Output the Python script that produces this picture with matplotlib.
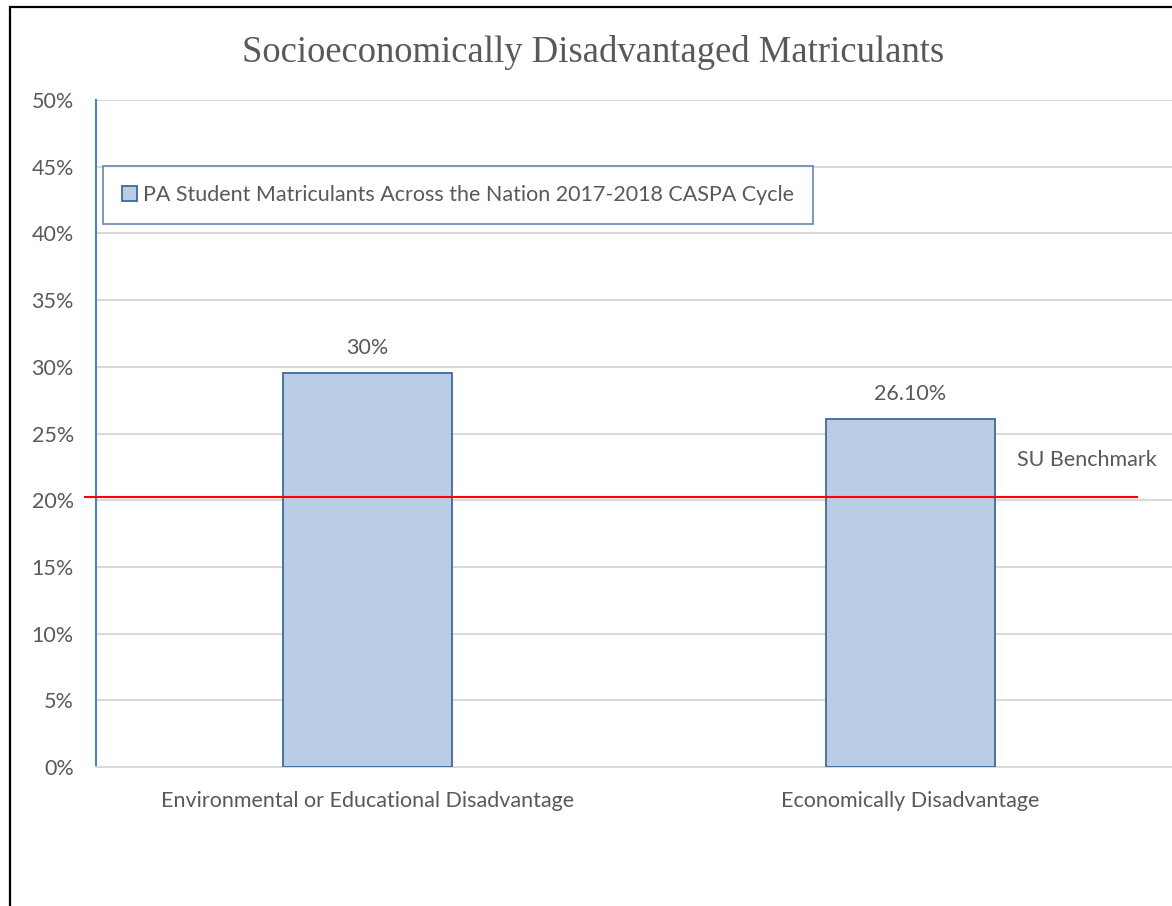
import numpy as np
import matplotlib.pyplot as plt
from matplotlib.patches import Rectangle

# data
categories = ["Environmental or Educational Disadvantage", "Economically Disadvantage"]
values = [0.295, 0.261]
value_labels = ["30%", "26.10%"]
series_name = "PA Student Matriculants Across the Nation 2017-2018 CASPA Cycle"
benchmark = 0.2025
benchmark_label = "SU Benchmark"
title = "Socioeconomically Disadvantaged Matriculants"

W, H = 1172, 906
plt.rcParams['font.family'] = ['Lato', 'DejaVu Sans']
txt = '#595959'
fs = 15.5

fig = plt.figure(figsize=(W/100, H/100), dpi=100)
fig.patch.set_facecolor('white')
# axes: left edge at px 96, plot area runs past the right edge of the picture
ax = fig.add_axes([96/W, 1-767/H, (W-96)/W, (767-100)/H])

x = np.arange(len(categories))
bars = ax.bar(x, values, width=0.313, color='#B9CDE5', edgecolor='#41689C',
              linewidth=1.3, label=series_name, zorder=3)
ax.set_xlim(-0.5, -0.5 + (W-96)/543)
ax.set_ylim(0, 0.5)
ax.set_yticks(np.arange(0, 0.51, 0.05))
ax.set_yticklabels([f"{int(round(v*100))}%" for v in np.arange(0, 0.51, 0.05)])
ax.set_xticks(x)
ax.set_xticklabels(categories)
ax.tick_params(axis='both', length=0, labelsize=fs, colors=txt)
ax.tick_params(axis='y', pad=16)
ax.tick_params(axis='x', pad=17)
ax.grid(axis='y', color='#D9D9D9', linewidth=1.5, zorder=0)
for s in ['top', 'right']:
    ax.spines[s].set_visible(False)
ax.spines['left'].set_color('#4F81BD')
ax.spines['left'].set_linewidth(1.5)
ax.spines['bottom'].set_color('#D9D9D9')
ax.spines['bottom'].set_linewidth(1.5)

for b, lab in zip(bars, value_labels):
    ax.annotate(lab, (b.get_x() + b.get_width()/2, b.get_height()),
                xytext=(0, 11), textcoords='offset points',
                ha='center', va='bottom', fontsize=fs, color=txt)

# benchmark line
ax.axhline(benchmark, xmin=-11/(W-96), xmax=(1137-96)/(W-96),
           color='#FF0000', linewidth=1.5, zorder=4, clip_on=False)
ax.text(1.196, 0.23, benchmark_label, ha='left', va='center', fontsize=fs, color=txt)

fig.text(593/W, 1-53/H, title, ha='center', va='center', fontsize=26.4,
         color=txt, family=['Liberation Serif', 'DejaVu Serif'])

leg = ax.legend(loc='upper left', bbox_to_anchor=(103/W, 1-166/H),
                bbox_transform=fig.transFigure, borderaxespad=0, fontsize=fs,
                frameon=True, fancybox=False, handlelength=0.72, handleheight=0.72,
                handletextpad=0.25, borderpad=0.88)
leg.get_frame().set_edgecolor('#41689C')
leg.get_frame().set_linewidth(1.2)
for t in leg.get_texts():
    t.set_color(txt)

# outer border
fig.patches.append(Rectangle((10/W, -0.1), 1.2, 1.1 - 7/H, fill=False,
                             edgecolor='black', linewidth=1.6,
                             transform=fig.transFigure, figure=fig))

fig.savefig('out.png', dpi=100)
